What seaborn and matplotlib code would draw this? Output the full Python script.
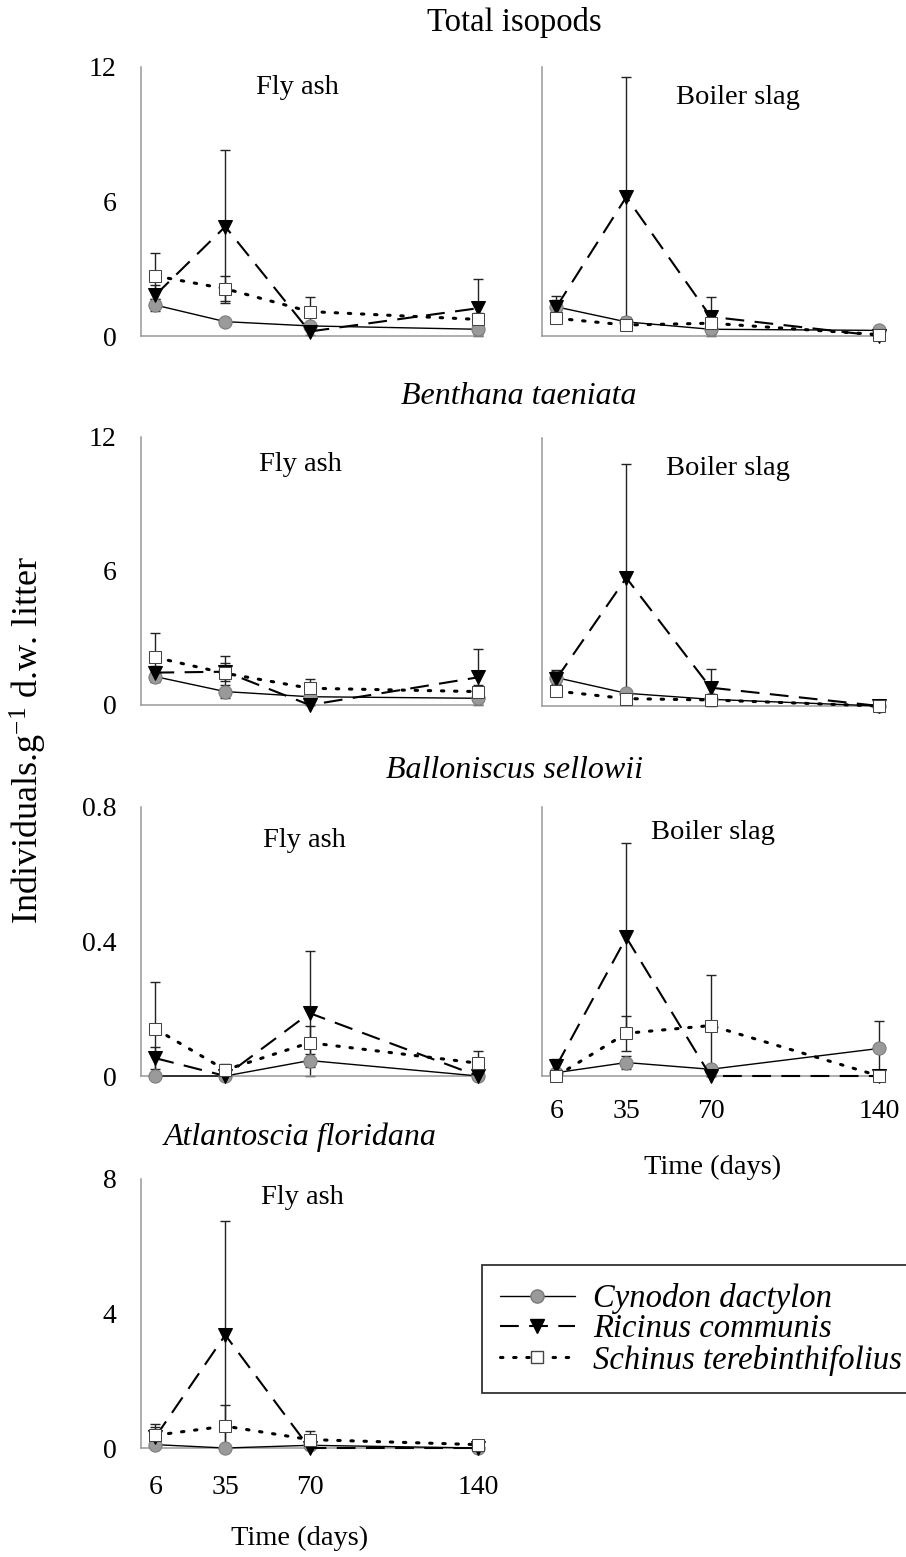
import numpy as np
import pandas as pd
import matplotlib
matplotlib.use("Agg")
import matplotlib.pyplot as plt
import seaborn as sns
from matplotlib.lines import Line2D

# ---------------- data ----------------
days = [6, 35, 70, 140]
species = ["Cynodon dactylon", "Ricinus communis", "Schinus terebinthifolius"]
groups = ["Total isopods", "Benthana taeniata", "Balloniscus sellowii", "Atlantoscia floridana"]
substrates = ["Fly ash", "Boiler slag"]

# Total isopods - Fly ash
tot_fa_cyn = [1.38, 0.64, 0.45, 0.30]
tot_fa_cyn_err = [0.25, 0.10, 0.10, 0.20]
tot_fa_ric = [1.83, 4.88, 0.20, 1.24]
tot_fa_ric_err = [0.45, 3.40, 0.15, 1.29]
tot_fa_sch = [2.68, 2.11, 1.09, 0.74]
tot_fa_sch_err = [1.04, 0.55, 0.66, 0.30]
# Total isopods - Boiler slag
tot_bs_cyn = [1.30, 0.63, 0.30, 0.25]
tot_bs_cyn_err = [0.30, 0.10, 0.20, 0.10]
tot_bs_ric = [1.30, 6.20, 0.86, 0.00]
tot_bs_ric_err = [0.50, 5.35, 0.87, 0.00]
tot_bs_sch = [0.79, 0.49, 0.57, 0.06]
tot_bs_sch_err = [0.20, 0.10, 0.20, 0.10]
# Benthana taeniata - Fly ash
ben_fa_cyn = [1.27, 0.60, 0.37, 0.30]
ben_fa_cyn_err = [0.20, 0.30, 0.10, 0.15]
ben_fa_ric = [1.45, 1.49, 0.00, 1.24]
ben_fa_ric_err = [0.30, 0.40, 0.00, 1.25]
ben_fa_sch = [2.13, 1.42, 0.75, 0.60]
ben_fa_sch_err = [1.10, 0.77, 0.40, 0.30]
# Benthana taeniata - Boiler slag
ben_bs_cyn = [1.27, 0.57, 0.30, 0.00]
ben_bs_cyn_err = [0.30, 0.10, 0.10, 0.00]
ben_bs_ric = [1.22, 5.74, 0.82, 0.00]
ben_bs_ric_err = [0.40, 5.10, 0.85, 0.00]
ben_bs_sch = [0.67, 0.33, 0.27, 0.00]
ben_bs_sch_err = [0.20, 0.10, 0.10, 0.00]
# Balloniscus sellowii - Fly ash
bal_fa_cyn = [0.000, 0.000, 0.046, 0.000]
bal_fa_cyn_err = [0.000, 0.000, 0.020, 0.000]
bal_fa_ric = [0.053, 0.000, 0.187, 0.000]
bal_fa_ric_err = [0.032, 0.000, 0.186, 0.000]
bal_fa_sch = [0.140, 0.018, 0.099, 0.038]
bal_fa_sch_err = [0.140, 0.017, 0.050, 0.036]
# Balloniscus sellowii - Boiler slag
bal_bs_cyn = [0.010, 0.040, 0.020, 0.082]
bal_bs_cyn_err = [0.010, 0.020, 0.010, 0.083]
bal_bs_ric = [0.030, 0.412, 0.000, 0.000]
bal_bs_ric_err = [0.020, 0.280, 0.000, 0.000]
bal_bs_sch = [0.000, 0.127, 0.150, 0.000]
bal_bs_sch_err = [0.000, 0.052, 0.150, 0.000]
# Atlantoscia floridana - Fly ash
atl_fa_cyn = [0.10, 0.00, 0.08, 0.00]
atl_fa_cyn_err = [0.10, 0.00, 0.05, 0.00]
atl_fa_ric = [0.33, 3.36, 0.00, 0.00]
atl_fa_ric_err = [0.30, 3.38, 0.00, 0.00]
atl_fa_sch = [0.38, 0.65, 0.25, 0.10]
atl_fa_sch_err = [0.32, 0.64, 0.25, 0.05]

y_ticks_total = [0, 6, 12]
y_ticks_ben = [0, 6, 12]
y_ticks_bal = [0, 0.4, 0.8]
y_ticks_atl = [0, 4, 8]
y_ticklabels_bal = ["0", "0.4", "0.8"]
x_ticklabels = ["6", "35", "70", "140"]

# ---------------- style ----------------
sns.set_theme(style="white")
plt.rcParams["font.family"] = ["Liberation Serif", "DejaVu Serif"]
plt.rcParams["mathtext.fontset"] = "custom"
plt.rcParams["mathtext.rm"] = "Liberation Serif"
plt.rcParams["mathtext.it"] = "Liberation Serif:italic"
plt.rcParams["text.color"] = "black"
plt.rcParams["axes.labelcolor"] = "black"
plt.rcParams["xtick.labelcolor"] = "black"
plt.rcParams["ytick.labelcolor"] = "black"

W, H = 906, 1557
fig = plt.figure(figsize=(W / 100, H / 100), dpi=100)
fig.patch.set_facecolor("white")

GREY = "#999999"
styles = {
    "Cynodon dactylon": dict(linestyle="-", lw=1.0, marker="o", markersize=9.5,
                             markerfacecolor="#9a9a9a", markeredgecolor="#7a7a7a"),
    "Ricinus communis": dict(linestyle=(0, (9, 5)), lw=1.5, marker="v", markersize=10,
                             markerfacecolor="black", markeredgecolor="black"),
    "Schinus terebinthifolius": dict(linestyle=(0, (0.8, 3.5)), lw=2.2, marker="s", markersize=8.5,
                                     markerfacecolor="white", markeredgecolor="#444444",
                                     dash_capstyle="round"),
}


def px_axes(left, top_px, bottom_px, width=342):
    return fig.add_axes([left / W, 1 - bottom_px / H, width / W, (bottom_px - top_px) / H])


def draw_panel(ax, series, errs, ymax, yticks, yticklabels, show_ylabels, show_xlabels,
               label, lx, ly, xpad=14):
    for sp, vals, err in zip(species, series, errs):
        st = styles[sp]
        vals = np.asarray(vals, dtype=float)
        err = np.asarray(err, dtype=float)
        lower = np.minimum(err, vals)
        ax.errorbar(days, vals, yerr=[lower, err], fmt="none", ecolor="#222222",
                    elinewidth=1.0, capsize=3.3, capthick=1.0, clip_on=False, zorder=2)
        df = pd.DataFrame({"day": days, "value": vals})
        sns.lineplot(data=df, x="day", y="value", ax=ax, color="black",
                     clip_on=False, zorder=3, **st)
    ax.set_xlim(0, 142)
    ax.set_ylim(0, ymax)
    ax.set_xticks(days)
    ax.set_yticks(yticks)
    if show_ylabels:
        ax.set_yticklabels(yticklabels)
    else:
        ax.set_yticklabels([])
    if show_xlabels:
        ax.set_xticklabels(x_ticklabels)
    else:
        ax.set_xticklabels([])
    ax.set_xlabel("")
    ax.set_ylabel("")
    for s in ["top", "right"]:
        ax.spines[s].set_visible(False)
    for s in ["left", "bottom"]:
        ax.spines[s].set_color(GREY)
        ax.spines[s].set_linewidth(1.1)
    ax.tick_params(axis="both", direction="inout", length=9, width=1.0, color=GREY,
                   labelsize=20, labelcolor="black")
    ax.tick_params(axis="y", pad=13)
    ax.tick_params(axis="x", pad=xpad)
    ax.set_facecolor("white")
    ax.text(lx, ly, label, transform=ax.transAxes, ha="center", va="center", fontsize=20.5)


# Row 1 - Total isopods
ax1 = px_axes(141, 67, 336)
draw_panel(ax1, [tot_fa_cyn, tot_fa_ric, tot_fa_sch], [tot_fa_cyn_err, tot_fa_ric_err, tot_fa_sch_err],
           12, y_ticks_total, [str(t) for t in y_ticks_total], True, False, "Fly ash", 0.456, 0.922)
ax2 = px_axes(542, 67, 336)
draw_panel(ax2, [tot_bs_cyn, tot_bs_ric, tot_bs_sch], [tot_bs_cyn_err, tot_bs_ric_err, tot_bs_sch_err],
           12, y_ticks_total, [], False, False, "Boiler slag", 0.573, 0.888)

# Row 2 - Benthana taeniata
ax3 = px_axes(141, 437, 705)
draw_panel(ax3, [ben_fa_cyn, ben_fa_ric, ben_fa_sch], [ben_fa_cyn_err, ben_fa_ric_err, ben_fa_sch_err],
           12, y_ticks_ben, [str(t) for t in y_ticks_ben], True, False, "Fly ash", 0.465, 0.896)
ax4 = px_axes(542, 438, 706)
draw_panel(ax4, [ben_bs_cyn, ben_bs_ric, ben_bs_sch], [ben_bs_cyn_err, ben_bs_ric_err, ben_bs_sch_err],
           12, y_ticks_ben, [], False, False, "Boiler slag", 0.544, 0.888)

# Row 3 - Balloniscus sellowii
ax5 = px_axes(141, 807, 1076)
draw_panel(ax5, [bal_fa_cyn, bal_fa_ric, bal_fa_sch], [bal_fa_cyn_err, bal_fa_ric_err, bal_fa_sch_err],
           0.8, y_ticks_bal, y_ticklabels_bal, True, False, "Fly ash", 0.477, 0.877)
ax6 = px_axes(542, 807, 1076)
draw_panel(ax6, [bal_bs_cyn, bal_bs_ric, bal_bs_sch], [bal_bs_cyn_err, bal_bs_ric_err, bal_bs_sch_err],
           0.8, y_ticks_bal, [], False, True, "Boiler slag", 0.50, 0.907, xpad=12)

# Row 4 - Atlantoscia floridana
ax7 = px_axes(141, 1179, 1448)
draw_panel(ax7, [atl_fa_cyn, atl_fa_ric, atl_fa_sch], [atl_fa_cyn_err, atl_fa_ric_err, atl_fa_sch_err],
           8, y_ticks_atl, [str(t) for t in y_ticks_atl], True, True, "Fly ash", 0.471, 0.933, xpad=15)

# group titles
fig.text(514 / W, 1 - 22 / H, groups[0], ha="center", va="center", fontsize=23.5)
fig.text(519 / W, 1 - 397 / H, groups[1], ha="center", va="center", fontsize=23, style="italic")
fig.text(515 / W, 1 - 770 / H, groups[2], ha="center", va="center", fontsize=23, style="italic")
fig.text(300 / W, 1 - 1137 / H, groups[3], ha="center", va="center", fontsize=23, style="italic")

# axis labels
fig.text(28 / W, 1 - 740 / H, r"Individuals.g$^{\mathregular{-1}}$ d.w. litter", rotation=90,
         ha="center", va="center", fontsize=26)
fig.text(713 / W, 1 - 1167 / H, "Time (days)", ha="center", va="center", fontsize=20.5)
fig.text(300 / W, 1 - 1538 / H, "Time (days)", ha="center", va="center", fontsize=20.5)

# legend
handles = [Line2D([0], [0], color="black", **styles[sp]) for sp in species]
leg = fig.legend(handles, species, loc="upper left", bbox_to_anchor=(482 / W, 1 - 1265 / H),
                 frameon=True, fancybox=False, edgecolor="#333333", framealpha=1,
                 prop={"style": "italic", "size": 23.5}, handlelength=2.3, handletextpad=0.55,
                 labelspacing=0.0, borderpad=0.55, borderaxespad=0.0)
leg.get_frame().set_linewidth(1.3)

fig.savefig("out.png", dpi=100, facecolor="white")
